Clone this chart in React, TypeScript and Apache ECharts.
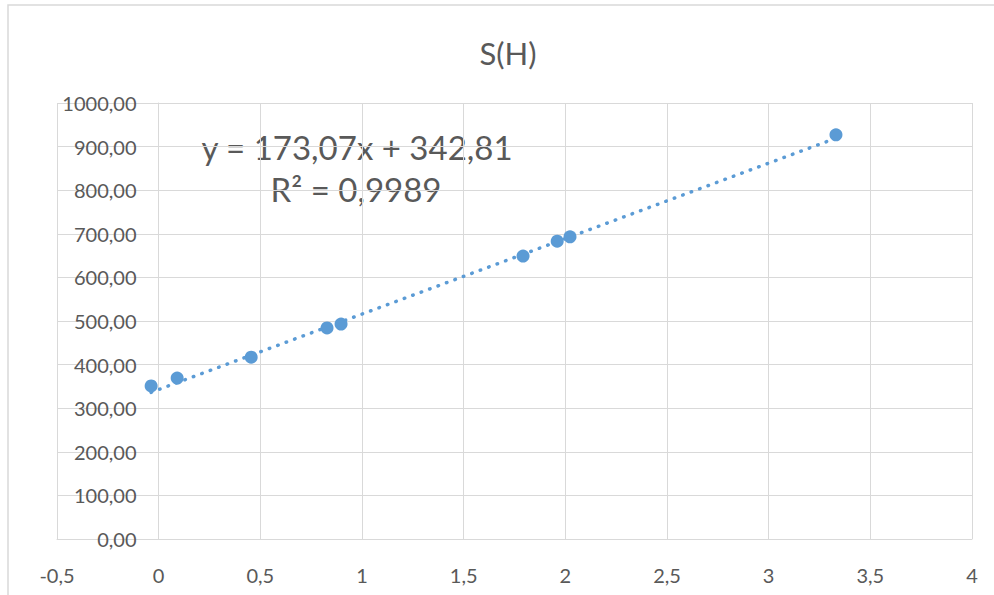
import React, { useEffect, useRef } from "react";
import * as echarts from "echarts";

const titleText = "S(H)";
const xValues = [-0.037, 0.091, 0.455, 0.828, 0.897, 1.792, 1.96, 2.023, 3.331];
const yValues = [351, 369, 417, 484, 493, 649, 683, 693, 927];
const slope = 173.07;
const intercept = 342.81;
const equationText = "y = 173,07x + 342,81";
const r2Text = "R² = 0,9989";

const FONT = "Lato, 'Open Sans', sans-serif";
const TXT = "#595959";
const GRID = "#d9d9d9";
const BLUE = "#5B9BD5";

export default function App() {
  const ref = useRef<HTMLDivElement>(null);
  useEffect(() => {
    if (!ref.current) return;
    const chart = echarts.init(ref.current, null, { renderer: "svg" });
    const pts = xValues.map((x, i) => [x, yValues[i]]);
    const xMin = Math.min(...xValues);
    const xMax = Math.max(...xValues);
    const trend = [
      [xMin, slope * xMin + intercept],
      [xMax, slope * xMax + intercept],
    ];
    const fmt = (v: number, d: number) => v.toFixed(d).replace(".", ",");
    chart.setOption({
      animation: false,
      backgroundColor: "#ffffff",
      grid: {
        left: 57,
        right: 22,
        top: 103,
        bottom: 56,
        containLabel: false,
        outerBoundsMode: "none",
      },
      xAxis: {
        type: "value",
        min: -0.5,
        max: 4,
        interval: 0.5,
        axisLine: { show: true, onZero: false, lineStyle: { color: GRID, width: 1 } },
        axisTick: { show: false },
        splitLine: { show: true, lineStyle: { color: GRID, width: 1 } },
        axisLabel: {
          margin: 26,
          fontFamily: FONT,
          fontSize: 20,
          color: TXT,
          formatter: (v: number) => fmt(v, Number.isInteger(v) ? 0 : 1),
        },
      },
      yAxis: {
        type: "value",
        min: 0,
        max: 1000,
        interval: 100,
        position: "left",
        offset: -101.5,
        axisLine: { show: true, onZero: false, lineStyle: { color: GRID, width: 1 } },
        axisTick: { show: false },
        splitLine: { show: true, lineStyle: { color: GRID, width: 1 } },
        axisLabel: {
          margin: 22,
          fontFamily: FONT,
          fontSize: 20,
          color: TXT,
          formatter: (v: number) => fmt(v, 2),
        },
      },
      graphic: [
        {
          type: "rect",
          silent: true,
          shape: { x: 8, y: 5, width: 1000, height: 620 },
          style: { fill: "none", stroke: GRID, lineWidth: 1.5 },
        },
        {
          type: "text",
          x: 508,
          y: 53,
          style: {
            text: titleText,
            fontFamily: FONT,
            fontSize: 31,
            fill: TXT,
            align: "center",
            verticalAlign: "middle",
          },
        },
        {
          type: "text",
          x: 357,
          y: 147,
          style: {
            text: equationText,
            fontFamily: FONT,
            fontSize: 33,
            fill: TXT,
            align: "center",
            verticalAlign: "middle",
          },
        },
        {
          type: "text",
          x: 356,
          y: 189,
          style: {
            text: r2Text,
            fontFamily: FONT,
            fontSize: 33,
            fill: TXT,
            align: "center",
            verticalAlign: "middle",
          },
        },
      ],
      series: [
        {
          type: "line",
          data: trend,
          symbol: "none",
          silent: true,
          z: 2,
          lineStyle: { color: BLUE, width: 3.5, type: [0.5, 8.5], cap: "round" },
        },
        {
          type: "scatter",
          data: pts,
          symbol: "circle",
          symbolSize: 13,
          z: 3,
          itemStyle: { color: BLUE, opacity: 1 },
        },
      ],
    });
    return () => chart.dispose();
  }, []);
  return (
    <div
      ref={ref}
      style={{ position: "absolute", left: 0, top: 0, width: 994, height: 595 }}
    />
  );
}
